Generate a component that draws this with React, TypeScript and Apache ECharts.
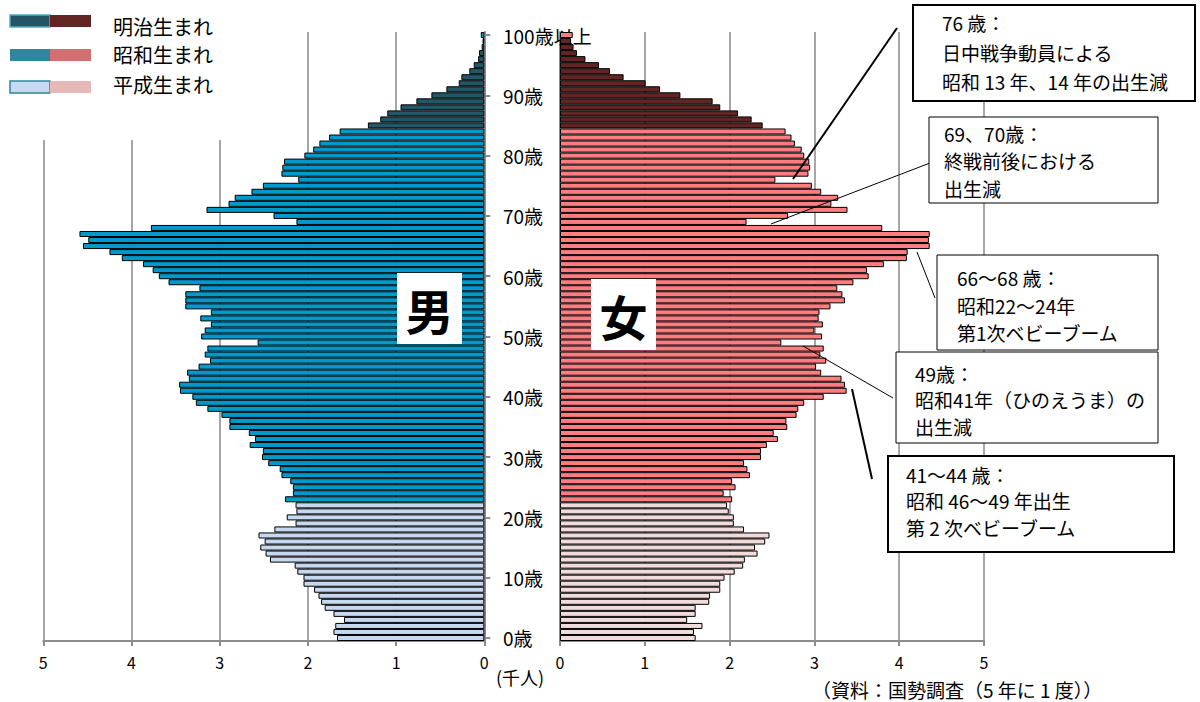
import React, { useEffect, useRef } from 'react';
import * as echarts from 'echarts';

const FONT = "'Noto Sans CJK JP', 'Noto Sans', sans-serif";

// ages 0..100 (100 = 100歳以上)
const ageCategories: string[] = [];
for (let a = 0; a <= 100; a++) ageCategories.push(String(a));

// 千人, index = age
const maleValues = [
  1.67, 1.71, 1.69, 1.59, 1.71, 1.81, 1.85, 1.88, 1.93, 2.05,
  2.05, 2.12, 2.15, 2.43, 2.48, 2.54, 2.49, 2.56, 2.38, 2.14,
  2.24, 2.13, 2.14, 2.26, 2.17, 2.17, 2.20, 2.30, 2.32, 2.45,
  2.52, 2.51, 2.66, 2.60, 2.67, 2.89, 2.89, 2.98, 3.14, 3.27,
  3.31, 3.45, 3.46, 3.35, 3.37, 3.24, 3.11, 3.17, 3.14, 2.57,
  3.21, 3.17, 3.10, 3.22, 3.10, 3.39, 3.39, 3.39, 3.23, 3.58,
  3.69, 3.76, 3.87, 4.11, 4.25, 4.55, 4.49, 4.59, 3.78, 2.13,
  2.39, 3.15, 2.90, 2.83, 2.64, 2.51, 2.11, 2.30, 2.29, 2.27,
  2.04, 1.94, 1.87, 1.76, 1.64, 1.32, 1.18, 1.10, 0.95, 0.77,
  0.60, 0.43, 0.29, 0.26, 0.17, 0.12, 0.07, 0.06, 0.03, 0.02,
  0.04,
];

const femaleValues = [
  1.60, 1.58, 1.68, 1.50, 1.60, 1.60, 1.76, 1.77, 1.89, 1.89,
  1.94, 2.06, 2.16, 2.18, 2.33, 2.30, 2.42, 2.47, 2.17, 2.05,
  2.05, 1.99, 1.97, 2.03, 1.93, 2.07, 2.03, 2.24, 2.21, 2.17,
  2.37, 2.37, 2.44, 2.57, 2.52, 2.68, 2.67, 2.79, 2.81, 2.88,
  3.11, 3.38, 3.36, 3.32, 3.08, 3.02, 3.14, 3.07, 3.11, 2.61,
  3.09, 3.00, 3.10, 3.05, 3.06, 3.19, 3.36, 3.33, 3.27, 3.46,
  3.64, 3.62, 3.82, 4.09, 4.10, 4.36, 4.35, 4.36, 3.80, 2.20,
  2.69, 3.39, 3.20, 3.28, 3.08, 2.97, 2.54, 2.93, 2.95, 2.94,
  2.88, 2.85, 2.77, 2.73, 2.66, 2.39, 2.26, 2.10, 1.89, 1.80,
  1.42, 1.18, 1.01, 0.75, 0.59, 0.46, 0.30, 0.20, 0.16, 0.13,
  0.15,
];

// era groups (age ranges as drawn)
const eraNames = ['明治生まれ', '昭和生まれ', '平成生まれ'];
const meijiAgeRange = [85, 99];
const heiseiAgeRange = [0, 22];

const maleEraColors = ['#215868', '#0099CC', '#C6D9F1'];
const femaleEraColors = ['#632523', '#FF7C80', '#F2DCDB'];

const xTicks = [0, 1, 2, 3, 4, 5];

function eraOf(age: number): number {
  if (age >= meijiAgeRange[0] && age <= meijiAgeRange[1]) return 0;
  if (age >= heiseiAgeRange[0] && age <= heiseiAgeRange[1]) return 2;
  return 1;
}

const annotations = [
  { box: [913, 5, 282, 96], lw: 2, lines: ['76 歳：', '日中戦争動員による', '昭和 13 年、14 年の出生減'], tx: 942, ty: [22, 52, 81], leader: [897, 28, 793, 179], llw: 2 },
  { box: [929, 117, 229, 86], lw: 1, lines: ['69、70歳：', '終戦前後における', '出生減'], tx: 944, ty: [133, 160, 188], leader: [930, 163, 771, 224], llw: 1 },
  { box: [937, 255, 221, 95], lw: 1, lines: ['66〜68 歳：', '昭和22〜24年', '第1次ベビーブーム'], tx: 957, ty: [277, 305, 332], leader: [917, 252, 935, 298], llw: 1 },
  { box: [896, 352, 262, 91], lw: 1, lines: ['49歳：', '昭和41年（ひのえうま）の', '出生減'], tx: 915, ty: [373, 399, 426], leader: [803, 346, 893, 398], llw: 1 },
  { box: [888, 456, 286, 96], lw: 2, lines: ['41〜44 歳：', '昭和 46〜49 年出生', '第 2 次ベビーブーム'], tx: 906, ty: [474, 500, 527], leader: [852, 389, 872, 479], llw: 2 },
];

export default function App() {
  const ref = useRef<HTMLDivElement>(null);

  useEffect(() => {
    if (!ref.current) return;
    const chart = echarts.init(ref.current, undefined, { renderer: 'svg' });

    const gridLineStyle = { color: '#A6A6A6', width: 2 };
    const axisLineStyle = { color: '#8C8C8C', width: 2 };

    const graphics: any[] = [];
    // white legend backing
    graphics.push({ type: 'rect', z: 100, shape: { x: 0, y: 0, width: 265, height: 140 }, style: { fill: '#fff' } });
    const legendRows = [
      { y: 15, ty: 26, leftStroke: '#4BACC6', left: '#245566', right: '#632523' },
      { y: 49, ty: 54, leftStroke: null, left: '#31859C', right: '#D07070' },
      { y: 81, ty: 84, leftStroke: '#31859C', left: '#C6D9F1', right: '#E6B9B8' },
    ];
    legendRows.forEach((r, i) => {
      graphics.push({
        type: 'rect', z: 101, shape: { x: 10, y: r.y, width: 40, height: 12 },
        style: r.leftStroke ? { fill: r.left, stroke: r.leftStroke, lineWidth: 1.5 } : { fill: r.left },
      });
      graphics.push({ type: 'rect', z: 101, shape: { x: 50, y: r.y, width: 41, height: 12 }, style: { fill: r.right } });
      graphics.push({
        type: 'text', z: 101, x: 113, y: r.ty,
        style: { text: eraNames[i], fontSize: 20, fontFamily: FONT, fill: '#000', align: 'left', verticalAlign: 'middle' },
      });
    });

    // 男 / 女 boxes
    [
      { x: 397, y: 273, t: '男' },
      { x: 591, y: 279, t: '女' },
    ].forEach((b) => {
      graphics.push({ type: 'rect', z: 100, shape: { x: b.x, y: b.y, width: 65, height: 71 }, style: { fill: '#fff' } });
      graphics.push({
        type: 'text', z: 101, x: b.x + 32.5, y: b.y + 36,
        style: { text: b.t, fontSize: 48, fontWeight: 'bold', fontFamily: FONT, fill: '#000', align: 'center', verticalAlign: 'middle' },
      });
    });

    annotations.forEach((a) => {
      graphics.push({
        type: 'line', z: 100,
        shape: { x1: a.leader[0], y1: a.leader[1], x2: a.leader[2], y2: a.leader[3] },
        style: { stroke: '#000', lineWidth: a.llw },
      });
      graphics.push({
        type: 'rect', z: 101,
        shape: { x: a.box[0], y: a.box[1], width: a.box[2], height: a.box[3] },
        style: { fill: '#fff', stroke: '#000', lineWidth: a.lw },
      });
      a.lines.forEach((t, i) => {
        graphics.push({
          type: 'text', z: 102, x: a.tx, y: a.ty[i],
          style: { text: t, fontSize: 19, fontFamily: FONT, fill: '#000', align: 'left', verticalAlign: 'middle' },
        });
      });
    });

    graphics.push({
      type: 'text', z: 101, x: 496, y: 677,
      style: { text: '(千人)', fontSize: 18, fontFamily: FONT, fill: '#000', align: 'left', verticalAlign: 'middle' },
    });
    graphics.push({
      type: 'text', z: 101, x: 812, y: 689,
      style: { text: '（資料：国勢調査（5 年に 1 度））', fontSize: 19, fontFamily: FONT, fill: '#000', align: 'left', verticalAlign: 'middle' },
    });

    const xAxisCommon = {
      type: 'value',
      min: xTicks[0],
      max: xTicks[xTicks.length - 1],
      interval: 1,
      axisLine: { show: true, onZero: false, lineStyle: axisLineStyle },
      axisTick: { show: true, length: 5, lineStyle: axisLineStyle },
      axisLabel: { color: '#000', fontSize: 16, margin: 13, fontFamily: FONT },
      splitLine: { show: true, lineStyle: gridLineStyle },
    };

    const option: any = {
      animation: false,
      backgroundColor: '#fff',
      textStyle: { fontFamily: FONT },
      grid: [
        { left: 43.3, right: 1200 - 484.3, top: 32, bottom: 61 },
        { left: 560, right: 1200 - 984, top: 32, bottom: 61 },
      ],
      xAxis: [
        { ...xAxisCommon, gridIndex: 0, inverse: true },
        { ...xAxisCommon, gridIndex: 1 },
      ],
      yAxis: [
        {
          type: 'category', gridIndex: 0, data: ageCategories, position: 'right',
          axisLine: { show: true, lineStyle: axisLineStyle },
          axisTick: { show: true, alignWithLabel: true, length: 6, interval: (i: number) => i % 10 === 0, lineStyle: axisLineStyle },
          axisLabel: { show: false },
          splitLine: { show: false },
        },
        {
          type: 'category', gridIndex: 1, data: ageCategories, position: 'left',
          axisLine: { show: true, lineStyle: axisLineStyle },
          axisTick: { show: false },
          axisLabel: {
            show: true,
            interval: (i: number) => i % 10 === 0,
            formatter: (v: string) => (Number(v) === 100 ? '100歳以上' : v + '歳'),
            align: 'left', margin: 57, fontSize: 19, color: '#000', fontFamily: FONT,
          },
          splitLine: { show: false },
        },
      ],
      series: [
        {
          name: '男', type: 'bar', xAxisIndex: 0, yAxisIndex: 0, barCategoryGap: '0%',
          itemStyle: { borderColor: '#000', borderWidth: 1 },
          data: maleValues.map((v, i) => ({ value: v, itemStyle: { color: maleEraColors[eraOf(i)] } })),
        },
        {
          name: '女', type: 'bar', xAxisIndex: 1, yAxisIndex: 1, barCategoryGap: '0%',
          itemStyle: { borderColor: '#000', borderWidth: 1 },
          data: femaleValues.map((v, i) => ({ value: v, itemStyle: { color: femaleEraColors[eraOf(i)] } })),
        },
      ],
      graphic: { elements: graphics },
    };

    chart.setOption(option);
    return () => chart.dispose();
  }, []);

  return (
    <div
      ref={ref}
      style={{ position: 'fixed', left: 0, top: 0, width: 1200, height: 702, background: '#fff' }}
    />
  );
}
